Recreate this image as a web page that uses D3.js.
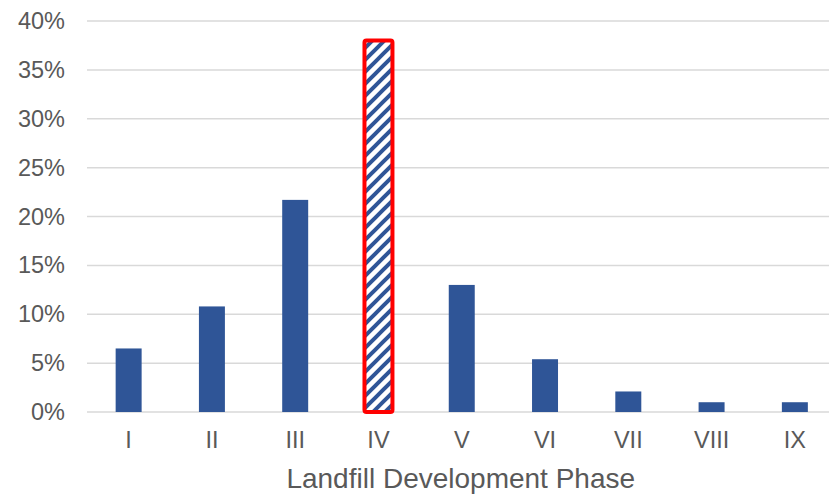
<!DOCTYPE html>
<html>
<head>
<meta charset="utf-8">
<script src="https://cdn.jsdelivr.net/npm/d3@7"></script>
<style>
  html, body { margin: 0; padding: 0; background: #fff; }
  svg { display: block; }
  text { font-family: "Liberation Sans", Arial, sans-serif; fill: #595959; }
</style>
</head>
<body>
<svg id="chart" width="829" height="495"></svg>
<script>
// Share of sites by landfill development phase
const phases = ["I", "II", "III", "IV", "V", "VI", "VII", "VIII", "IX"];
const shares = [0.065, 0.108, 0.217, 0.38, 0.13, 0.054, 0.021, 0.01, 0.01];
const highlighted = ["IV"];
const yTicks = [0, 0.05, 0.10, 0.15, 0.20, 0.25, 0.30, 0.35, 0.40];
const xTitle = "Landfill Development Phase";

const svg = d3.select("#chart");
const W = 829, H = 495;
const plot = { left: 87, right: 836.5, top: 21, bottom: 412 };

const x = d3.scaleBand().domain(phases).range([plot.left, plot.right]).paddingInner(0.688).paddingOuter(0.344);
const y = d3.scaleLinear().domain([0, 0.40]).range([plot.bottom, plot.top]);

// diagonal hatch fill for highlighted phase
const T = 12;
const defs = svg.append("defs");
const pat = defs.append("pattern")
  .attr("id", "hatch")
  .attr("patternUnits", "userSpaceOnUse")
  .attr("width", T).attr("height", T)
  .attr("patternTransform", "translate(1,4)");
pat.append("rect").attr("width", T).attr("height", T).attr("fill", "#fff");
pat.append("path")
  .attr("d", `M-3,3 L3,-3 M0,${T} L${T},0 M${T - 3},${T + 3} L${T + 3},${T - 3}`)
  .attr("stroke", "#2F5597").attr("stroke-width", 4);

// horizontal gridlines
svg.append("g")
  .selectAll("line").data(yTicks).join("line")
  .attr("x1", plot.left).attr("x2", W)
  .attr("y1", d => y(d)).attr("y2", d => y(d))
  .attr("stroke", "#D9D9D9").attr("stroke-width", 1.5);

// y axis labels
const yAxis = d3.axisLeft(y).tickValues(yTicks).tickFormat(d3.format(".0%")).tickSize(0).tickPadding(0);
const gy = svg.append("g").attr("transform", `translate(65,0)`).call(yAxis);
gy.select(".domain").remove();
gy.selectAll("text").style("font-size", "23.5px").attr("fill", "#595959")
  .style("font-family", '"Liberation Sans", Arial, sans-serif');

// bars
svg.append("g")
  .selectAll("rect").data(phases).join("rect")
  .attr("x", d => x(d))
  .attr("y", (d, i) => y(shares[i]))
  .attr("width", x.bandwidth())
  .attr("height", (d, i) => y(0) - y(shares[i]))
  .attr("fill", d => highlighted.includes(d) ? "url(#hatch)" : "#2F5597");

// red outline around highlighted phase
svg.append("g")
  .selectAll("rect").data(highlighted).join("rect")
  .attr("x", d => x(d) - 1)
  .attr("y", d => y(shares[phases.indexOf(d)]))
  .attr("width", x.bandwidth() + 2)
  .attr("height", d => y(0) - y(shares[phases.indexOf(d)]))
  .attr("rx", 2)
  .attr("fill", "none")
  .attr("stroke", "#FF0000").attr("stroke-width", 4);

// x axis labels
const xAxis = d3.axisBottom(x).tickSize(0).tickPadding(0);
const gx = svg.append("g").attr("transform", `translate(0,${plot.bottom + 19})`).call(xAxis);
gx.select(".domain").remove();
gx.selectAll("text").style("font-size", "23.5px").attr("fill", "#595959")
  .style("font-family", '"Liberation Sans", Arial, sans-serif');

// axis title
svg.append("text")
  .attr("x", (plot.left + plot.right) / 2 - 1)
  .attr("y", 488)
  .attr("text-anchor", "middle")
  .style("font-size", "28px")
  .text(xTitle);
</script>
</body>
</html>
